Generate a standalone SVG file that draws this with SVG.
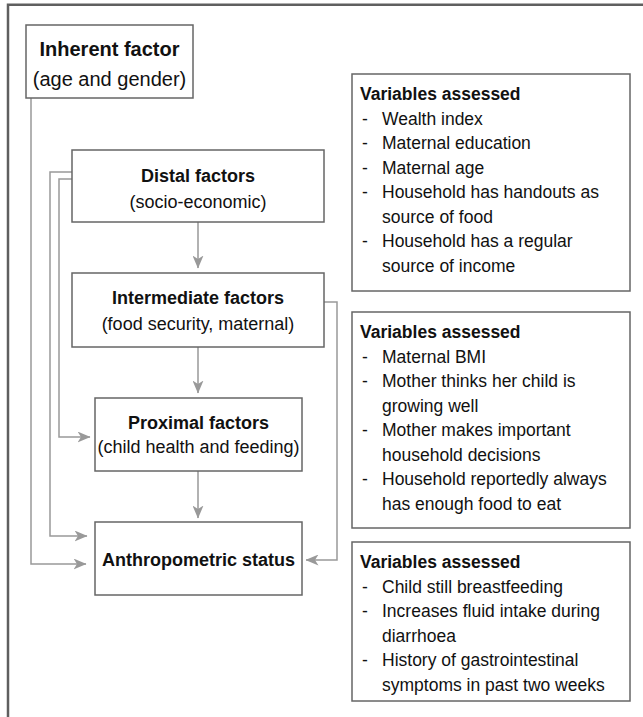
<svg xmlns="http://www.w3.org/2000/svg" width="643" height="717" viewBox="0 0 643 717">
<defs>
<marker id="arr" viewBox="0 0 13 11" refX="12.5" refY="5.5" markerWidth="13" markerHeight="11" markerUnits="userSpaceOnUse" orient="auto">
<path d="M0,0 L13,5.5 L0,11 L3.5,5.5 Z" fill="#999"/>
</marker>
</defs>
<style>
.frame{fill:none;stroke:#5f5f5f;stroke-width:2.5}
.box{fill:#fff;stroke:#666;stroke-width:1.5}
.con{fill:none;stroke:#999;stroke-width:1.5}
text{font-family:"Liberation Sans",Arial,sans-serif;fill:#111}
.t20b{font-size:20px;font-weight:bold;text-anchor:middle}
.t20{font-size:20px;text-anchor:middle}
.t18b{font-size:18px;font-weight:bold;text-anchor:middle}
.t18{font-size:18px;text-anchor:middle}
.hd{font-size:17.5px;font-weight:bold}
.it{font-size:17.5px}
</style>
<rect width="643" height="717" fill="#fff"/>
<path class="frame" d="M8,717 V4.8 H643"/>

<g id="connectors">
<path class="con" d="M31,98 V564 H86" marker-end="url(#arr)"/>
<path class="con" d="M72,172 H50 V536 H87" marker-end="url(#arr)"/>
<path class="con" d="M72,179 H59 V437 H90" marker-end="url(#arr)"/>
<path class="con" d="M198,222 V268" marker-end="url(#arr)"/>
<path class="con" d="M324,302 H337 V560 H306" marker-end="url(#arr)"/>
<path class="con" d="M198,347 V393" marker-end="url(#arr)"/>
<path class="con" d="M198,471 V518" marker-end="url(#arr)"/>
</g>

<g id="inherent">
<rect class="box" x="26" y="25" width="167" height="73"/>
<text class="t20b" x="109.5" y="56">Inherent factor</text>
<text class="t20" x="109.5" y="86">(age and gender)</text>
</g>

<g id="distal">
<rect class="box" x="72" y="150" width="252" height="72"/>
<text class="t18b" x="198" y="182">Distal factors</text>
<text class="t18" x="198" y="208">(socio-economic)</text>
</g>

<g id="intermediate">
<rect class="box" x="72" y="273" width="252" height="74"/>
<text class="t18b" x="198" y="304">Intermediate factors</text>
<text class="t18" x="198" y="330">(food security, maternal)</text>
</g>

<g id="proximal">
<rect class="box" x="95" y="398" width="207" height="73"/>
<text class="t18b" x="198.5" y="429">Proximal factors</text>
<text class="t18" x="198.5" y="453">(child health and feeding)</text>
</g>

<g id="anthropometric">
<rect class="box" x="95" y="522" width="207" height="73"/>
<text class="t18b" x="198.5" y="566">Anthropometric status</text>
</g>

<g id="vars-distal">
<rect class="box" x="352" y="74" width="278" height="217"/>
<text class="hd" x="360" y="100">Variables assessed</text>
<text class="it" x="362" y="124.5">-</text><text class="it" x="382" y="124.5">Wealth index</text>
<text class="it" x="362" y="149">-</text><text class="it" x="382" y="149">Maternal education</text>
<text class="it" x="362" y="173.5">-</text><text class="it" x="382" y="173.5">Maternal age</text>
<text class="it" x="362" y="198">-</text><text class="it" x="382" y="198">Household has handouts as</text>
<text class="it" x="382" y="222.5">source of food</text>
<text class="it" x="362" y="247">-</text><text class="it" x="382" y="247">Household has a regular</text>
<text class="it" x="382" y="271.5">source of income</text>
</g>

<g id="vars-intermediate">
<rect class="box" x="352" y="312" width="278" height="216"/>
<text class="hd" x="360" y="338">Variables assessed</text>
<text class="it" x="362" y="362.5">-</text><text class="it" x="382" y="362.5">Maternal BMI</text>
<text class="it" x="362" y="387">-</text><text class="it" x="382" y="387">Mother thinks her child is</text>
<text class="it" x="382" y="411.5">growing well</text>
<text class="it" x="362" y="436">-</text><text class="it" x="382" y="436">Mother makes important</text>
<text class="it" x="382" y="460.5">household decisions</text>
<text class="it" x="362" y="485">-</text><text class="it" x="382" y="485">Household reportedly always</text>
<text class="it" x="382" y="509.5">has enough food to eat</text>
</g>

<g id="vars-proximal">
<rect class="box" x="352" y="542" width="278" height="159"/>
<text class="hd" x="360" y="568">Variables assessed</text>
<text class="it" x="362" y="592.5">-</text><text class="it" x="382" y="592.5">Child still breastfeeding</text>
<text class="it" x="362" y="617">-</text><text class="it" x="382" y="617">Increases fluid intake during</text>
<text class="it" x="382" y="641.5">diarrhoea</text>
<text class="it" x="362" y="666">-</text><text class="it" x="382" y="666">History of gastrointestinal</text>
<text class="it" x="382" y="690.5">symptoms in past two weeks</text>
</g>
</svg>
